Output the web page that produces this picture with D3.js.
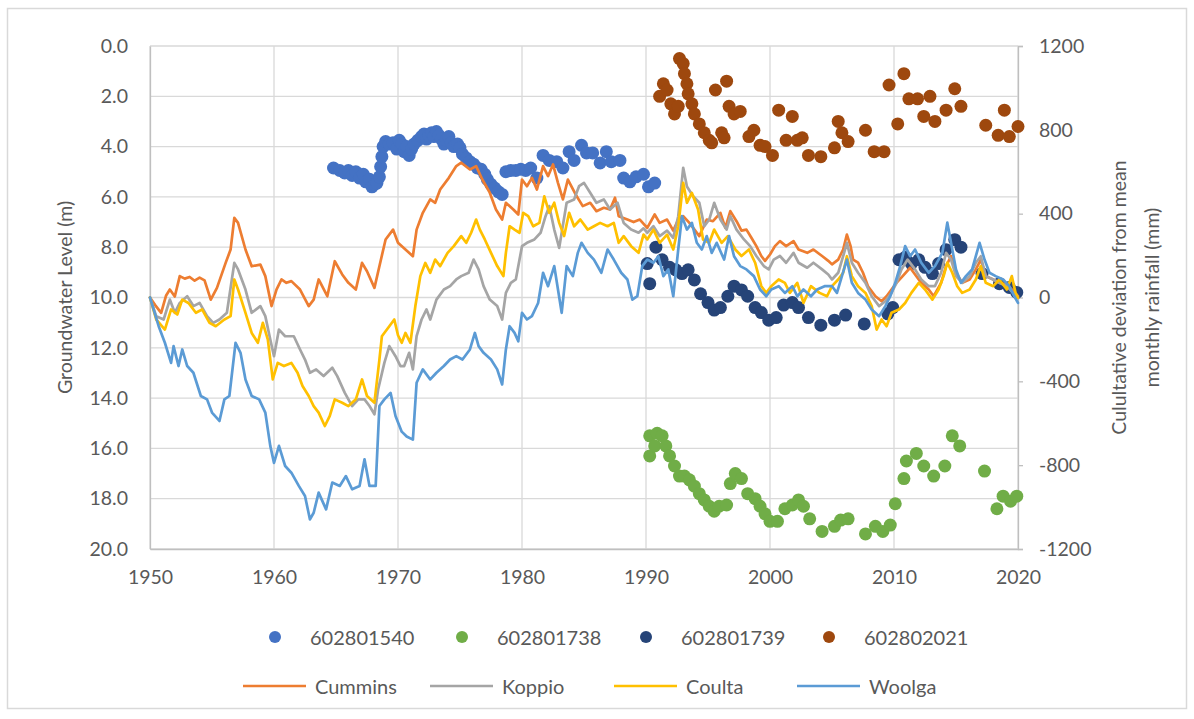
<!DOCTYPE html>
<html>
<head>
<meta charset="utf-8">
<script src="https://cdn.jsdelivr.net/npm/d3@7"></script>
<style>
  body { margin: 0; background: #fff; }
  svg text { font-family: Lato, "Noto Sans", sans-serif; fill: #595959; }
</style>
</head>
<body>
<svg id="chart" width="1194" height="719"></svg>
<script>
// ---- Axis ticks ----
const yearTicks = [1950, 1960, 1970, 1980, 1990, 2000, 2010, 2020];
const levelTicks = [0, 2, 4, 6, 8, 10, 12, 14, 16, 18, 20];
const rainTicks = [-1200, -800, -400, 0, 400, 800, 1200];

// ---- Groundwater level observations (year, depth in m) ----
const well602801540 = [
  [1964.8,4.85],[1965.3,4.95],[1965.7,5.05],[1966.0,4.95],[1966.3,5.15],[1966.6,5.0],[1966.9,5.25],
  [1967.2,5.1],[1967.4,5.4],[1967.7,5.3],[1967.9,5.6],[1968.1,5.5],[1968.3,5.45],[1968.5,5.2],
  [1968.6,4.8],[1968.7,4.4],[1968.8,4.0],[1969.0,3.8],[1969.3,3.9],[1969.6,3.85],[1969.9,4.1],
  [1970.1,3.75],[1970.3,3.9],[1970.5,4.2],[1970.7,4.0],[1970.9,4.35],[1971.1,4.1],[1971.3,3.9],
  [1971.6,3.75],[1971.9,3.6],[1972.1,3.5],[1972.3,3.7],[1972.5,3.55],[1972.7,3.45],[1972.9,3.6],
  [1973.1,3.4],[1973.3,3.55],[1973.5,3.7],[1973.7,3.9],[1973.9,3.75],[1974.1,3.6],[1974.3,3.85],
  [1974.5,4.0],[1974.8,3.9],[1975.0,4.05],[1975.2,4.3],[1975.5,4.45],[1975.8,4.6],[1976.1,4.7],
  [1976.4,4.85],[1976.7,4.9],[1977.0,5.1],[1977.2,5.3],[1977.5,5.5],[1977.8,5.65],[1978.1,5.8],
  [1978.4,5.9],[1978.7,5.0],[1979.1,4.95],[1979.5,4.95],[1979.9,4.9],[1980.3,4.95],[1980.7,4.85],
  [1981.2,5.25],[1981.7,4.35],[1982.2,4.55],[1982.8,4.6],[1983.3,4.85],[1983.8,4.2],[1984.2,4.55],
  [1984.8,3.95],[1985.2,4.25],[1985.7,4.25],[1986.3,4.65],[1986.8,4.2],[1987.2,4.6],[1987.9,4.55],
  [1988.2,5.25],[1988.7,5.4],[1989.2,5.2],[1989.8,5.1],[1990.2,5.6],[1990.7,5.45]
];
const well602801738 = [
  [1990.3,15.5],[1990.3,16.3],[1990.7,15.9],[1990.9,15.4],[1991.3,15.5],[1991.6,15.9],[1991.9,16.3],
  [1992.3,16.7],[1992.7,17.1],[1993.1,17.1],[1993.5,17.25],[1993.9,17.5],[1994.3,17.8],[1994.7,18.05],
  [1995.1,18.3],[1995.5,18.5],[1995.9,18.3],[1996.5,18.25],[1996.8,17.4],[1997.2,17.0],[1997.7,17.2],
  [1998.2,17.8],[1998.8,18.0],[1999.2,18.3],[1999.6,18.6],[2000.0,18.9],[2000.6,18.9],[2001.2,18.4],
  [2001.8,18.25],[2002.3,18.05],[2002.7,18.3],[2003.2,18.8],[2004.2,19.3],[2005.2,19.1],[2005.7,18.85],
  [2006.3,18.8],[2007.7,19.4],[2008.5,19.1],[2009.1,19.3],[2009.7,19.05],[2010.1,18.2],[2010.8,17.2],
  [2011.0,16.5],[2011.8,16.2],[2012.4,16.7],[2013.2,17.1],[2014.1,16.7],[2014.7,15.5],[2015.3,15.9],
  [2017.3,16.9],[2018.3,18.4],[2018.8,17.9],[2019.4,18.1],[2019.9,17.9]
];
const well602801739 = [
  [1990.1,8.65],[1990.3,9.45],[1990.8,8.0],[1991.3,8.5],[1991.9,8.8],[1992.4,8.9],[1992.9,9.05],
  [1993.4,8.9],[1993.9,9.3],[1994.4,9.85],[1995.0,10.2],[1995.5,10.5],[1996.0,10.4],[1996.6,9.95],
  [1997.1,9.55],[1997.7,9.7],[1998.2,9.95],[1998.8,10.4],[1999.3,10.6],[1999.9,10.9],[2000.5,10.8],
  [2001.1,10.3],[2001.8,10.2],[2002.3,10.4],[2003.1,10.8],[2004.1,11.1],[2005.2,10.9],[2006.1,10.7],
  [2007.6,11.05],[2009.5,10.65],[2009.9,10.4],[2010.4,8.5],[2010.9,8.4],[2011.4,8.65],[2012.0,8.5],
  [2012.5,8.8],[2013.1,9.05],[2013.6,8.65],[2014.2,8.1],[2014.9,7.7],[2015.4,8.0],[2017.1,9.05],
  [2018.5,9.45],[2019.3,9.6],[2019.9,9.8]
];
const well602802021 = [
  [1991.1,2.0],[1991.4,1.5],[1991.7,1.75],[1992.0,2.3],[1992.3,2.7],[1992.6,2.4],[1992.7,0.5],
  [1993.0,0.7],[1993.1,1.1],[1993.3,1.5],[1993.4,1.9],[1993.7,2.3],[1993.9,2.7],[1994.3,3.1],
  [1994.7,3.45],[1995.1,3.75],[1995.3,3.85],[1995.6,1.75],[1996.1,3.45],[1996.3,3.65],[1996.5,1.4],
  [1996.7,2.4],[1997.1,2.7],[1997.6,2.6],[1998.3,3.6],[1998.7,3.35],[1999.2,3.95],[1999.6,4.0],
  [2000.2,4.35],[2000.7,2.55],[2001.3,3.75],[2001.8,2.8],[2002.2,3.75],[2002.6,3.65],[2003.1,4.35],
  [2004.1,4.4],[2005.2,4.05],[2005.5,3.0],[2005.8,3.45],[2006.3,3.8],[2007.7,3.35],[2008.4,4.2],
  [2009.2,4.2],[2009.6,1.55],[2010.3,3.1],[2010.8,1.1],[2011.2,2.1],[2011.9,2.1],[2012.4,2.8],
  [2012.9,2.0],[2013.3,3.0],[2014.2,2.55],[2014.9,1.7],[2015.4,2.4],[2017.4,3.15],[2018.4,3.55],
  [2018.9,2.55],[2019.3,3.6],[2020.0,3.2]
];

// ---- Cumulative deviation from mean monthly rainfall (year, mm) ----
const cummins = [
  [1950.0,0],[1950.4,-35],[1950.9,-73],[1951.3,10],[1951.6,38],[1952.0,5],[1952.4,102],[1952.8,90],
  [1953.2,98],[1953.6,80],[1954.0,95],[1954.4,82],[1954.9,-10],[1955.4,46],[1956.1,165],[1956.5,229],
  [1956.8,380],[1957.1,356],[1957.7,229],[1958.2,149],[1958.9,157],[1959.3,102],[1959.8,-41],[1960.2,38],
  [1960.6,86],[1961.0,70],[1961.4,78],[1962.1,38],[1962.8,-41],[1963.2,-10],[1963.6,86],[1964.3,6],
  [1964.9,173],[1965.5,110],[1966.0,70],[1966.6,38],[1967.1,165],[1967.5,125],[1968.1,46],[1968.5,149],
  [1969.0,277],[1969.6,324],[1970.0,261],[1970.6,229],[1971.2,197],[1971.5,324],[1972.0,404],[1972.6,468],
  [1973.0,452],[1973.4,515],[1974.1,571],[1974.7,627],[1975.1,643],[1975.8,611],[1976.3,627],[1976.8,563],
  [1977.4,500],[1977.9,420],[1978.4,372],[1978.7,452],[1979.3,420],[1979.7,396],[1980.0,563],[1980.4,531],
  [1980.8,571],[1981.2,515],[1981.7,627],[1982.1,579],[1982.5,635],[1982.9,547],[1983.3,468],[1983.7,563],
  [1984.4,484],[1984.9,436],[1985.5,452],[1986.0,412],[1986.6,428],[1987.1,420],[1987.5,476],[1987.8,388],
  [1988.5,372],[1989.0,360],[1989.5,372],[1990.1,332],[1990.7,396],[1991.1,356],[1991.7,372],[1992.2,319],
  [1992.6,372],[1993.0,388],[1993.5,356],[1994.3,293],[1994.9,372],[1995.4,364],[1996.0,404],[1996.4,332],
  [1996.8,412],[1997.3,364],[1997.7,319],[1998.1,324],[1998.5,285],[1998.9,245],[1999.3,198],[1999.6,175],
  [2000.0,205],[2000.4,245],[2000.8,269],[2001.3,245],[2001.9,269],[2002.3,229],[2003.0,213],[2003.5,229],
  [2004.2,198],[2004.7,175],[2005.0,158],[2005.5,181],[2005.9,229],[2006.2,300],[2006.5,245],[2006.7,181],
  [2007.1,166],[2007.5,118],[2007.9,54],[2008.5,6],[2009.0,-18],[2009.4,6],[2009.8,38],[2010.2,70],
  [2010.7,102],[2011.3,142],[2011.7,110],[2012.2,70],[2012.8,38],[2013.2,6],[2013.8,70],[2014.2,150],
  [2014.6,197],[2015.0,118],[2015.5,70],[2016.1,86],[2016.6,134],[2017.0,181],[2017.4,102],[2018.0,86],
  [2018.5,70],[2019.1,62],[2019.5,38],[2020.0,6]
];
const koppio = [
  [1950.0,0],[1950.5,-89],[1951.1,-105],[1951.6,-10],[1952.0,-73],[1952.4,-26],[1953.0,6],[1953.5,-41],
  [1954.0,-26],[1954.6,-89],[1955.1,-121],[1955.6,-105],[1956.2,-73],[1956.6,86],[1956.8,165],[1957.1,134],
  [1957.7,38],[1958.2,-73],[1958.9,-41],[1959.3,-89],[1959.7,-200],[1960.0,-280],[1960.4,-153],[1960.9,-185],
  [1961.6,-185],[1962.1,-248],[1962.5,-296],[1962.9,-359],[1963.4,-343],[1964.0,-375],[1964.7,-335],[1965.1,-375],
  [1965.7,-454],[1966.3,-518],[1966.8,-486],[1967.3,-486],[1967.7,-518],[1968.1,-557],[1968.4,-438],[1968.9,-312],
  [1969.3,-232],[1969.8,-280],[1970.2,-327],[1970.5,-327],[1970.9,-264],[1971.2,-343],[1971.5,-184],[1971.9,-105],
  [1972.3,-57],[1972.6,-105],[1973.1,-10],[1973.7,38],[1974.2,54],[1974.7,86],[1975.1,102],[1975.7,118],
  [1976.1,181],[1976.5,134],[1976.9,54],[1977.4,-10],[1978.0,-41],[1978.4,-105],[1978.7,22],[1979.1,70],
  [1979.5,86],[1979.8,181],[1980.0,245],[1980.4,261],[1981.0,277],[1981.5,309],[1981.9,388],[1982.2,436],
  [1982.6,324],[1983.0,237],[1983.2,309],[1983.6,452],[1984.2,468],[1984.6,531],[1985.0,547],[1985.5,500],
  [1986.0,452],[1986.6,468],[1987.1,420],[1987.7,452],[1988.2,356],[1988.8,324],[1989.4,309],[1989.8,330],
  [1990.1,309],[1990.6,340],[1991.1,293],[1991.7,319],[1992.2,285],[1992.6,388],[1993.0,619],[1993.3,530],
  [1993.8,483],[1994.3,452],[1994.7,340],[1995.1,372],[1995.5,452],[1996.0,372],[1996.5,324],[1996.8,388],
  [1997.3,324],[1997.9,277],[1998.4,245],[1998.9,198],[1999.5,150],[1999.9,134],[2000.3,181],[2000.8,198],
  [2001.3,166],[2001.9,213],[2002.3,166],[2003.0,142],[2003.5,166],[2004.2,134],[2004.7,110],[2005.0,86],
  [2005.5,118],[2005.9,197],[2006.2,261],[2006.6,166],[2007.1,118],[2007.7,70],[2008.2,6],[2008.8,-41],
  [2009.3,-18],[2009.8,22],[2010.2,70],[2010.6,134],[2011.1,181],[2011.7,134],[2012.2,86],[2012.8,54],
  [2013.3,54],[2013.8,118],[2014.2,213],[2014.6,181],[2015.0,102],[2015.5,70],[2016.1,102],[2016.6,166],
  [2017.0,197],[2017.4,102],[2018.0,86],[2018.5,70],[2019.1,54],[2019.6,22],[2020.0,-2]
];
const coulta = [
  [1950.0,0],[1950.5,-105],[1951.2,-153],[1951.7,-57],[1952.2,-81],[1952.6,-10],[1953.1,-26],[1953.7,-73],
  [1954.2,-57],[1954.8,-121],[1955.3,-137],[1956.0,-105],[1956.5,-89],[1956.8,86],[1957.1,38],[1957.7,-73],
  [1958.2,-169],[1958.7,-216],[1959.1,-121],[1959.5,-200],[1959.9,-391],[1960.3,-312],[1960.8,-327],[1961.4,-312],
  [1961.9,-359],[1962.3,-422],[1962.8,-470],[1963.2,-518],[1963.6,-549],[1964.1,-613],[1964.5,-565],[1964.9,-486],
  [1965.5,-502],[1966.0,-518],[1966.6,-486],[1967.1,-391],[1967.5,-470],[1968.1,-502],[1968.5,-296],[1968.7,-185],
  [1969.3,-137],[1969.7,-105],[1970.0,-180],[1970.3,-216],[1970.6,-169],[1971.0,-216],[1971.4,-41],[1971.8,102],
  [1972.2,165],[1972.6,118],[1973.0,181],[1973.4,150],[1974.0,213],[1974.5,245],[1975.1,293],[1975.5,261],
  [1975.9,309],[1976.3,372],[1976.6,324],[1977.0,277],[1977.5,213],[1978.0,150],[1978.5,102],[1978.7,213],
  [1979.0,340],[1979.4,324],[1979.8,309],[1980.1,404],[1980.5,388],[1980.9,340],[1981.4,356],[1981.8,483],
  [1982.2,404],[1982.6,452],[1983.0,356],[1983.4,293],[1983.8,404],[1984.2,340],[1984.7,372],[1985.3,324],
  [1985.8,340],[1986.3,356],[1986.9,340],[1987.4,356],[1987.8,261],[1988.2,293],[1988.8,245],[1989.4,213],
  [1989.8,300],[1990.1,277],[1990.6,324],[1991.1,261],[1991.7,300],[1992.2,229],[1992.6,340],[1993.0,547],
  [1993.3,452],[1993.7,499],[1994.2,420],[1994.6,277],[1995.1,261],[1995.5,324],[1996.1,261],[1996.6,293],
  [1997.2,229],[1997.7,198],[1998.3,229],[1998.8,166],[1999.3,54],[1999.7,22],[2000.1,54],[2000.7,86],
  [2001.2,70],[2001.6,22],[2002.2,70],[2002.7,-26],[2003.3,54],[2004.0,22],[2004.6,6],[2005.0,54],
  [2005.5,86],[2005.9,118],[2006.2,197],[2006.6,102],[2007.1,54],[2007.7,22],[2008.2,-41],[2008.6,-153],
  [2009.0,-105],[2009.4,-137],[2009.8,-73],[2010.4,-57],[2010.9,-26],[2011.4,22],[2012.0,70],[2012.5,38],
  [2013.1,-10],[2013.6,38],[2014.0,102],[2014.3,166],[2014.7,118],[2015.1,54],[2015.5,22],[2016.1,38],
  [2016.6,86],[2017.0,150],[2017.4,70],[2018.0,54],[2018.5,86],[2019.1,38],[2019.5,102],[2019.8,22],[2020.0,-2]
];
const woolga = [
  [1950.0,0],[1950.7,-137],[1951.2,-216],[1951.7,-312],[1951.9,-232],[1952.3,-327],[1952.6,-248],[1953.0,-327],
  [1953.5,-359],[1954.1,-470],[1954.6,-486],[1955.0,-549],[1955.6,-589],[1956.0,-486],[1956.4,-470],[1956.9,-216],
  [1957.3,-264],[1957.7,-391],[1958.2,-470],[1958.8,-486],[1959.3,-549],[1959.7,-708],[1960.0,-789],[1960.4,-708],
  [1960.9,-804],[1961.4,-836],[1962.0,-899],[1962.5,-947],[1962.9,-1059],[1963.2,-1027],[1963.6,-931],[1964.2,-1011],
  [1964.7,-883],[1965.3,-899],[1965.8,-852],[1966.3,-915],[1966.9,-899],[1967.3,-772],[1967.7,-899],[1968.2,-899],
  [1968.5,-518],[1968.9,-486],[1969.4,-455],[1969.8,-565],[1970.3,-640],[1970.7,-663],[1971.2,-678],[1971.5,-407],
  [1972.0,-343],[1972.6,-391],[1973.1,-359],[1973.7,-327],[1974.2,-296],[1974.7,-280],[1975.2,-296],[1975.8,-248],
  [1976.2,-169],[1976.5,-232],[1976.9,-264],[1977.5,-296],[1978.0,-343],[1978.4,-415],[1978.7,-248],[1979.0,-137],
  [1979.4,-169],[1979.7,-209],[1980.0,-73],[1980.4,-105],[1980.8,-89],[1981.3,-26],[1981.7,118],[1982.1,54],
  [1982.6,150],[1983.2,-73],[1983.6,150],[1984.1,102],[1984.5,213],[1984.8,261],[1985.3,213],[1985.8,181],
  [1986.4,118],[1986.9,229],[1987.4,181],[1988.0,118],[1988.5,86],[1988.9,-10],[1989.3,6],[1989.7,150],
  [1990.1,181],[1990.6,166],[1991.0,197],[1991.4,102],[1991.8,134],[1992.2,6],[1992.6,229],[1992.9,388],
  [1993.3,324],[1993.7,356],[1994.1,261],[1994.5,229],[1994.9,293],[1995.3,213],[1995.7,261],[1996.3,181],
  [1996.7,293],[1997.1,197],[1997.6,150],[1998.1,134],[1998.7,102],[1999.2,38],[1999.7,6],[2000.1,38],
  [2000.7,54],[2001.2,22],[2001.8,54],[2002.2,6],[2002.7,38],[2003.3,6],[2003.8,38],[2004.4,54],
  [2005.0,54],[2005.4,22],[2005.8,102],[2006.2,181],[2006.6,70],[2007.1,22],[2007.7,-10],[2008.2,-57],
  [2008.8,-89],[2009.3,-41],[2009.7,6],[2010.1,70],[2010.5,150],[2010.9,245],[2011.3,197],[2011.7,229],
  [2012.2,166],[2012.8,118],[2013.3,150],[2013.9,213],[2014.3,357],[2014.6,261],[2015.0,134],[2015.4,70],
  [2015.8,102],[2016.3,134],[2016.9,261],[2017.3,181],[2017.7,118],[2018.2,102],[2018.8,86],[2019.3,54],
  [2019.7,6],[2020.0,-26]
];

const wellSeries = [
  { name: "602801540", color: "#4472C4", data: well602801540 },
  { name: "602801738", color: "#70AD47", data: well602801738 },
  { name: "602801739", color: "#264478", data: well602801739 },
  { name: "602802021", color: "#9E480E", data: well602802021 }
];
const rainSeries = [
  { name: "Cummins", color: "#ED7D31", data: cummins },
  { name: "Koppio",  color: "#A5A5A5", data: koppio },
  { name: "Coulta",  color: "#FFC000", data: coulta },
  { name: "Woolga",  color: "#5B9BD5", data: woolga }
];

// ---- Layout ----
const plot = { left: 150, right: 1018, top: 46, bottom: 549 };
const fontSize = 19.5;
const legendFontSize = 20;

const svg = d3.select("#chart");

svg.append("rect")
  .attr("x", 7.5).attr("y", 8.5).attr("width", 1179).attr("height", 700)
  .attr("fill", "#fff").attr("stroke", "#d9d9d9").attr("stroke-width", 1.5);

const x = d3.scaleLinear().domain([1950, 2020]).range([plot.left, plot.right]);
const yLevel = d3.scaleLinear().domain([0, 20]).range([plot.top, plot.bottom]);
const yRain = d3.scaleLinear().domain([-1200, 1200]).range([plot.bottom, plot.top]);

// Gridlines
const grid = svg.append("g").attr("stroke", "#d9d9d9").attr("stroke-width", 1.3);
grid.selectAll(".hgrid").data(levelTicks).join("line")
  .attr("x1", plot.left).attr("x2", plot.right)
  .attr("y1", d => yLevel(d)).attr("y2", d => yLevel(d));
grid.selectAll(".vgrid").data(yearTicks).join("line")
  .attr("x1", d => x(d)).attr("x2", d => x(d))
  .attr("y1", plot.top).attr("y2", plot.bottom);

// Left axis (groundwater level)
const leftAxis = svg.append("g")
  .attr("transform", `translate(${plot.left},0)`)
  .call(d3.axisLeft(yLevel).tickValues(levelTicks).tickSize(0).tickPadding(22).tickFormat(d => d.toFixed(1)));
leftAxis.select(".domain").attr("stroke", "#bfbfbf").attr("stroke-width", 1.3);

// Bottom axis (year)
const bottomAxis = svg.append("g")
  .attr("transform", `translate(0,${plot.bottom})`)
  .call(d3.axisBottom(x).tickValues(yearTicks).tickSize(0).tickPadding(21).tickFormat(d => String(d)));
bottomAxis.select(".domain").attr("stroke", "#bfbfbf").attr("stroke-width", 1.3);

// Right axis (cumulative rainfall deviation), plain hyphen for negatives
const rightAxis = svg.append("g")
  .attr("transform", `translate(${plot.right},0)`)
  .call(d3.axisRight(yRain).tickValues(rainTicks).tickSize(5).tickPadding(16).tickFormat(d => String(d)));
rightAxis.select(".domain").attr("stroke", "#bfbfbf").attr("stroke-width", 1.3);
rightAxis.selectAll(".tick line").attr("stroke", "#bfbfbf").attr("stroke-width", 1.3);

svg.selectAll(".tick text")
  .attr("font-size", fontSize)
  .style("font-family", "Lato, 'Noto Sans', sans-serif")
  .attr("fill", "#595959");

// Axis titles
svg.append("text")
  .attr("transform", `translate(72,${(plot.top + plot.bottom) / 2}) rotate(-90)`)
  .attr("text-anchor", "middle").attr("font-size", fontSize)
  .text("Groundwater Level (m)");

const rightTitle = svg.append("text")
  .attr("transform", `translate(1126,${(plot.top + plot.bottom) / 2}) rotate(-90)`)
  .attr("text-anchor", "middle").attr("font-size", fontSize);
rightTitle.append("tspan").attr("x", 0).attr("y", 0).text("Culultative deviation from mean");
rightTitle.append("tspan").attr("x", 0).attr("y", 33).text("monthly rainfall (mm)");

// Groundwater observations
const dots = svg.append("g");
wellSeries.forEach(s => {
  dots.append("g").attr("fill", s.color)
    .selectAll("circle").data(s.data).join("circle")
    .attr("cx", d => x(d[0])).attr("cy", d => yLevel(d[1])).attr("r", 6.5);
});

// Rainfall deviation lines
const line = d3.line().x(d => x(d[0])).y(d => yRain(d[1]));
const lines = svg.append("g").attr("fill", "none");
rainSeries.forEach(s => {
  lines.append("path").datum(s.data)
    .attr("d", line).attr("stroke", s.color).attr("stroke-width", 2.7)
    .attr("stroke-linejoin", "round").attr("stroke-linecap", "round");
});

// Legend
const legendCols = [243, 430, 614, 797];
const legendRow1 = 637, legendRow2 = 686;
const leg = svg.append("g").attr("font-size", legendFontSize);
wellSeries.forEach((s, i) => {
  const g = leg.append("g").attr("transform", `translate(${legendCols[i]},${legendRow1})`);
  g.append("circle").attr("cx", 32).attr("cy", 0).attr("r", 6).attr("fill", s.color);
  g.append("text").attr("x", 67).attr("y", 0).attr("dominant-baseline", "central").text(s.name);
});
rainSeries.forEach((s, i) => {
  const g = leg.append("g").attr("transform", `translate(${legendCols[i]},${legendRow2})`);
  g.append("line").attr("x1", 0).attr("x2", 63).attr("y1", 0).attr("y2", 0)
    .attr("stroke", s.color).attr("stroke-width", 2.7);
  g.append("text").attr("x", 72).attr("y", 0).attr("dominant-baseline", "central").text(s.name);
});
</script>
</body>
</html>
